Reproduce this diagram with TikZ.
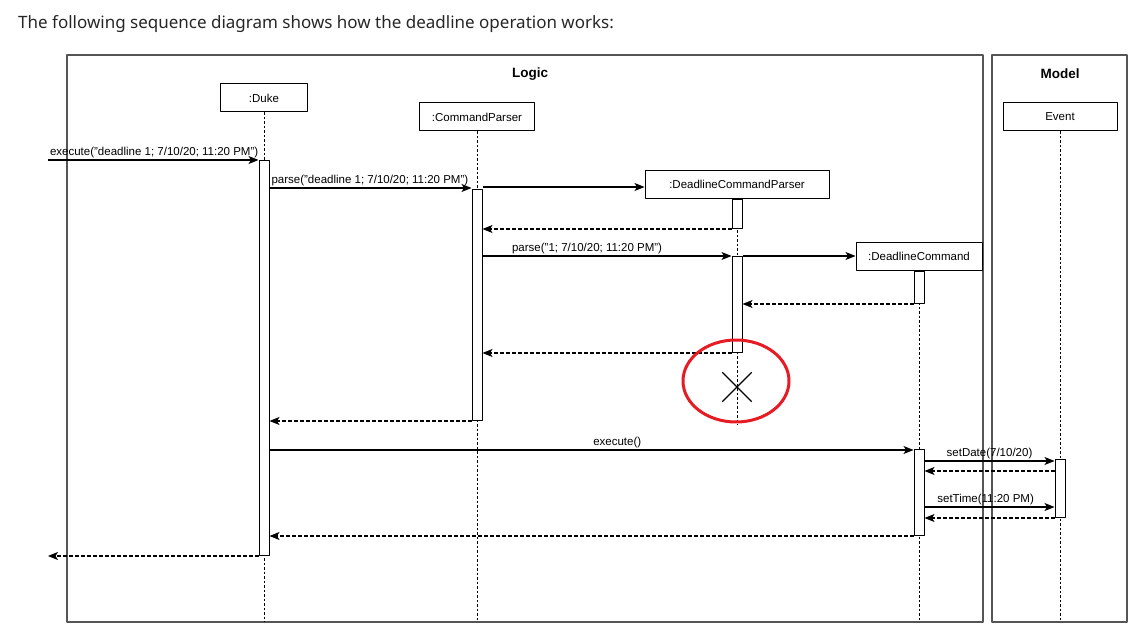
\documentclass[tikz,border=0pt]{standalone}
\usepackage{fontspec}
\setmainfont{Liberation Sans}
\newfontfamily\titlefont{Noto Sans}
\usetikzlibrary{arrows.meta, positioning, calc, shapes.misc}

\definecolor{markred}{RGB}{230,28,36}
\definecolor{framegray}{RGB}{85,85,85}

\tikzset{
  head/.style={draw, line width=1pt, minimum width=#1, minimum height=28pt, inner sep=0pt, font=\fontsize{11.5}{13}\selectfont},
  bar/.style={draw, fill=white, line width=1pt, minimum width=10pt, minimum height=#1, inner sep=0pt, anchor=north},
  msg/.style={-{Stealth[length=10pt, width=8pt, inset=2.5pt]}, line width=1.1pt},
  ret/.style={msg, dash pattern=on 3.5pt off 2.5pt},
  life/.style={line width=1pt, dash pattern=on 2.5pt off 2pt},
  lbl/.style={font=\fontsize{11.5}{13}\selectfont, inner sep=1.5pt},
  frame/.style={draw=framegray, line width=1.6pt}
}

\begin{document}
\begin{tikzpicture}[x=1pt, y=-1pt, >=Stealth, line join=round]
  \useasboundingbox (0,0) rectangle (1146,644);
  \node[anchor=west, inner sep=0pt, font=\titlefont\fontsize{17}{20}\selectfont, text=black!85] (title) at (18,24) {The following sequence diagram shows how the deadline operation works:};

  \draw[frame] (67,55) rectangle (983,622);
  \draw[frame] (992,55) rectangle (1127,622);
  \node[font=\bfseries\fontsize{13.5}{15}\selectfont] (logic) at (530,74) {Logic};
  \node[font=\bfseries\fontsize{13.5}{15}\selectfont] (model) at (1060,74) {Model};

  \node[head=87pt] (duke) at (264,98) {:Duke};
  \node[head=115pt] (cp) at (477,117) {:CommandParser};
  \node[head=184pt] (dcp) at (737,184.5) {:DeadlineCommandParser};
  \node[head=126pt] (dc) at (919,256.5) {:DeadlineCommand};
  \node[head=114pt] (event) at (1060,117) {Event};

  \coordinate (dcpend) at (737,425);
  \draw[life] (duke.south) -- (duke |- 0,622);
  \draw[life] (cp.south) -- (cp |- 0,622);
  \draw[life] (dcp.south) -- (dcpend);
  \draw[life] (dc.south) -- (dc |- 0,622);
  \draw[life] (event.south) -- (event |- 0,622);

  \node[bar=395pt] (dukebar) at (264,160) {};
  \node[bar=231pt] (cpbar) at (477,189) {};
  \node[bar=29pt] (dcpbar1) at (737,199) {};
  \node[bar=96pt] (dcpbar2) at (737,256) {};
  \node[bar=32pt] (dcbar1) at (919,271) {};
  \node[bar=86pt] (dcbar2) at (919,449) {};
  \node[bar=58pt] (eventbar) at (1060,459) {};

  \coordinate (caller) at (48,160);
  \draw[msg] (caller) -- (dukebar.north west) node[lbl, pos=0, anchor=south west] {execute("deadline 1; 7/10/20; 11:20 PM")};
  \draw[msg] (dukebar.east |- 0,188) -- (cpbar.north west |- 0,188) node[lbl, pos=0, anchor=south west] {parse("deadline 1; 7/10/20; 11:20 PM")};
  \draw[msg] (cpbar.east |- 0,187) -- (dcp.west |- 0,187);
  \draw[ret] (dcpbar1.south west) -- (cpbar.east |- dcpbar1.south);
  \draw[msg] (cpbar.east |- dcpbar2.north) -- (dcpbar2.north west) node[lbl, pos=0.42, above] {parse("1; 7/10/20; 11:20 PM")};
  \draw[msg] (dcpbar2.east |- dcpbar2.north) -- (dc.west |- dcpbar2.north);
  \draw[ret] (dcbar1.south west) -- (dcpbar2.east |- dcbar1.south);
  \draw[ret] (dcpbar2.south west) -- (cpbar.east |- dcpbar2.south);
  \draw[ret] (cpbar.south west) -- (dukebar.east |- cpbar.south);
  \draw[msg] (dukebar.east |- 0,450) -- (dcbar2.west |- 0,450) node[lbl, pos=0.54, above] {execute()};
  \draw[msg] (dcbar2.east |- 0,461) -- (eventbar.west |- 0,461) node[lbl, midway, above] {setDate(7/10/20)};
  \draw[ret] (eventbar.west |- 0,471) -- (dcbar2.east |- 0,471);
  \draw[msg] (dcbar2.east |- 0,507) -- (eventbar.west |- 0,507) node[lbl, pos=0.47, above] {setTime(11:20 PM)};
  \draw[ret] (eventbar.south west) -- (dcbar2.east |- eventbar.south);
  \draw[ret] (dcbar2.south west) -- (dukebar.east |- dcbar2.south);
  \draw[ret] (dukebar.south west) -- (caller |- dukebar.south);

  \node[cross out, draw, line width=1.4pt, minimum size=28pt, inner sep=0pt] (destroy) at (737,387) {};
  \draw[markred, line width=3pt] (736,381) ellipse [x radius=53pt, y radius=41pt];
\end{tikzpicture}
\end{document}
